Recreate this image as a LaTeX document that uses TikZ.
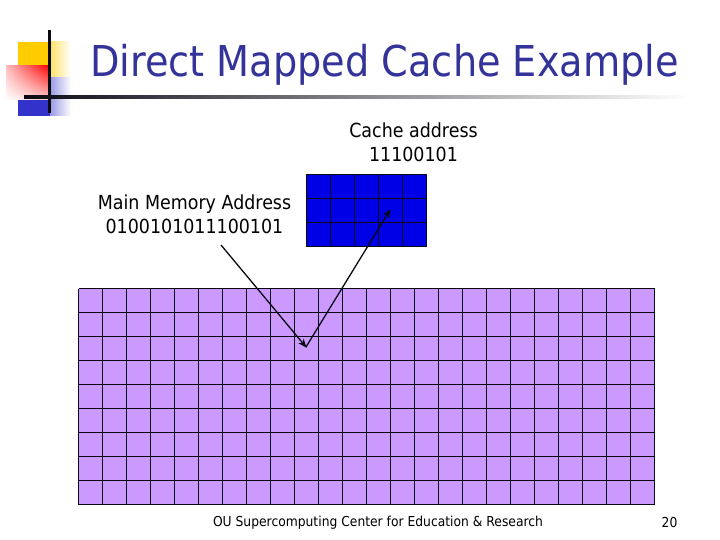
\documentclass[tikz,border=0pt]{standalone}
\usepackage{fontspec}
\setmainfont{DejaVu Sans}[FakeStretch=0.9]
\usetikzlibrary{arrows.meta,shadings}
\definecolor{titleblue}{HTML}{333399}
\definecolor{memfill}{HTML}{CC99FF}
\definecolor{cachefill}{HTML}{0000E6}
\definecolor{logoyellow}{HTML}{FFCC00}
\definecolor{logored}{HTML}{FF0000}
\definecolor{logoblue}{HTML}{3333CC}
\definecolor{inkdark}{HTML}{0A0A14}
\tikzset{
  gridcell/.style={draw=inkdark,line width=1.2pt},
  lbl/.style={inner sep=0pt,align=center,text=black,font=\fontsize{19.4}{24}\selectfont},
  foot/.style={inner sep=0pt,text=black,font=\fontsize{13.7}{16}\selectfont},
  ptr/.style={draw=inkdark,line width=1.3pt,-{Stealth[length=9pt,width=7pt]},shorten >=-1pt}
}
\begin{document}
\begin{tikzpicture}[x=1pt,y=-1pt]
\useasboundingbox (0,0) rectangle (720,540);
\fill[white] (0,0) rectangle (720,540);
% logo
\fill[logoyellow] (18,42) rectangle (50,66);
\shade[left color=logoyellow!60!white,right color=white] (50,42) rectangle (71,78);
\shade[left color=logoblue!50!white,right color=white] (50,78) rectangle (71,116);
\fill[logoblue] (18,100) rectangle (50,116);
\shade[lower left=white,upper right=logored,lower right=logored!20!white,upper left=logored!25!white] (6,66) rectangle (50,100);
\draw[inkdark,line width=3pt] (49.5,30) -- (49.5,113);
\shade[left color=inkdark,right color=white] (24,96) rectangle (690,98.5);
% title
\node[inner sep=0pt,anchor=base west,text=titleblue,font=\fontsize{42.5}{48}\selectfont] (title) at (90,77) {Direct Mapped Cache Example};
% memory
\fill[memfill] (78.5,288.5) rectangle (654.5,504.5);
\foreach \i in {0,...,24} \draw[gridcell] ({78.5+24*\i},288.5) -- ({78.5+24*\i},504.5);
\foreach \j in {0,...,9} \draw[gridcell] (78.5,{288.5+24*\j}) -- (654.5,{288.5+24*\j});
% cache
\fill[cachefill] (306.5,174.5) rectangle (426.5,246.5);
\foreach \i in {0,...,5} \draw[gridcell] ({306.5+24*\i},174.5) -- ({306.5+24*\i},246.5);
\foreach \j in {0,...,3} \draw[gridcell] (306.5,{174.5+24*\j}) -- (426.5,{174.5+24*\j});
% labels
\node[lbl] (cachelabel) at (413.5,142) {Cache address\\11100101};
\node[lbl] (memlabel) at (194.5,214) {Main Memory Address\\0100101011100101};
\node[foot] (footer) at (378,522.5) {OU Supercomputing Center for Education \& Research};
\node[foot] (pagenum) at (669.5,522.5) {20};
% connectors
\coordinate (memstart) at (221,245);
\coordinate (memcell) at (306,347);
\coordinate (cachecell) at (390,210);
\draw[ptr] (memstart) -- (memcell);
\draw[ptr] (memcell) -- (cachecell);
\end{tikzpicture}
\end{document}
